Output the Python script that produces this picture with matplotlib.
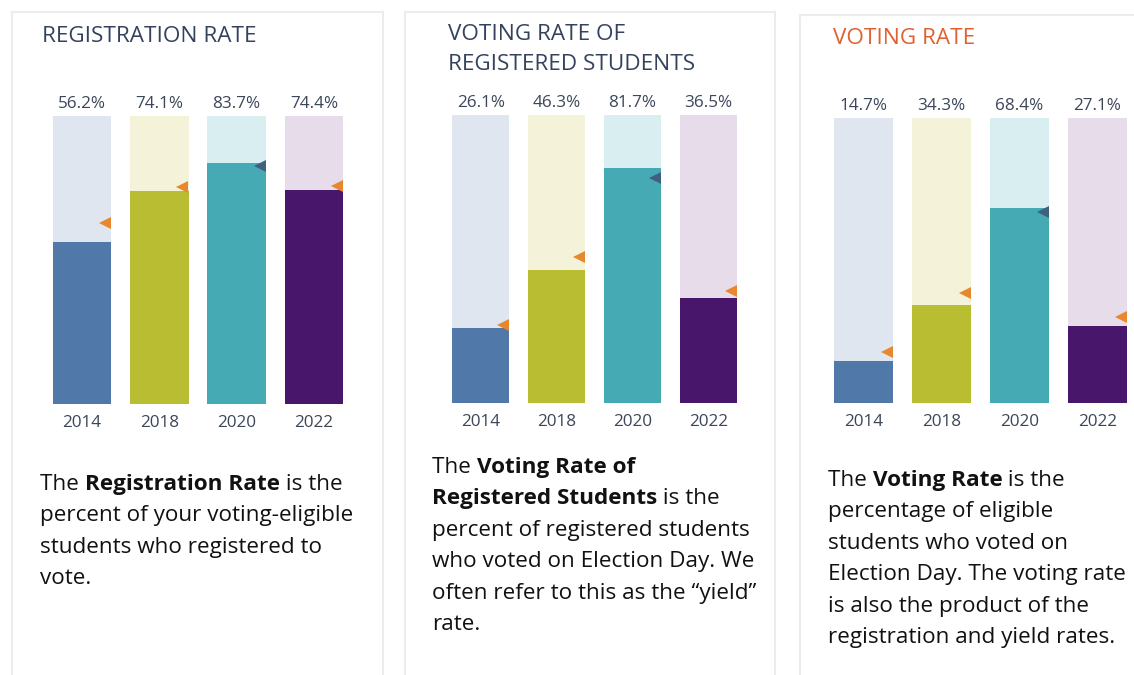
import matplotlib
matplotlib.use("Agg")
import matplotlib.pyplot as plt
from matplotlib.patches import Rectangle

plt.rcParams['font.family'] = ['Open Sans', 'DejaVu Sans']

W, H = 1134, 675

years = ["2014", "2018", "2020", "2022"]

titles = ["REGISTRATION RATE", "VOTING RATE OF\nREGISTERED STUDENTS", "VOTING RATE"]

registration_rate = [56.2, 74.1, 83.7, 74.4]
yield_rate = [26.1, 46.3, 81.7, 36.5]
voting_rate = [14.7, 34.3, 68.4, 27.1]

# orange reference markers
registration_ref = [62.8, 75.3, 82.8, 75.6]
yield_ref = [27.1, 50.7, 78.0, 38.9]
voting_ref = [17.9, 38.6, 67.0, 30.2]

descriptions = [
    [[("The ", False), ("Registration Rate", True), (" is the", False)],
     [("percent of your voting-eligible", False)],
     [("students who registered to", False)],
     [("vote.", False)]],
    [[("The ", False), ("Voting Rate of", True)],
     [("Registered Students", True), (" is the", False)],
     [("percent of registered students", False)],
     [("who voted on Election Day. We", False)],
     [("often refer to this as the \u201cyield\u201d", False)],
     [("rate.", False)]],
    [[("The ", False), ("Voting Rate", True), (" is the", False)],
     [("percentage of eligible", False)],
     [("students who voted on", False)],
     [("Election Day. The voting rate", False)],
     [("is also the product of the", False)],
     [("registration and yield rates.", False)]],
]

bar_colors = ["#5078a9", "#b9bd31", "#46aab5", "#48166a"]
bg_colors = ["#dfe6ef", "#f4f3da", "#d8eef1", "#e7dcea"]
hidden_marker = "#41607f"
marker_color = "#e8872e"
label_color = "#3b4658"
title_colors = ["#34425e", "#34425e", "#e0602e"]

fig = plt.figure(figsize=(W / 100, H / 100), dpi=100)
fig.patch.set_facecolor("white")


def fx(x):
    return x / W


def fy(y):
    return 1 - y / H


# faint card outlines
for (x0, y0, x1, y1) in [(12, 12, 383, 700), (405, 12, 775, 700), (800, 15, 1160, 700)]:
    fig.patches.append(Rectangle((fx(x0), fy(y1)), fx(x1 - x0), (y1 - y0) / H,
                                 transform=fig.transFigure, facecolor="none",
                                 edgecolor="#ececec", lw=1.5, zorder=-1))

panels = [
    dict(vals=registration_rate, refs=registration_ref, left=53, right=343, top=116, bottom=404,
         title_xy=(42, 37), text_xy=(40, 490)),
    dict(vals=yield_rate, refs=yield_ref, left=452, right=737, top=115, bottom=403,
         title_xy=(448, 35), text_xy=(432, 473)),
    dict(vals=voting_rate, refs=voting_ref, left=834, right=1127, top=118, bottom=403,
         title_xy=(833, 38), text_xy=(828, 486)),
]

width = 0.755
renderer = fig.canvas.get_renderer()

for k, p in enumerate(panels):
    ax = fig.add_axes([fx(p["left"]), fy(p["bottom"]),
                       fx(p["right"] - p["left"]), (p["bottom"] - p["top"]) / H])
    ax.set_xlim(-width / 2, 3 + width / 2)
    ax.set_ylim(0, 100)
    ax.axis("off")
    xs = range(len(years))
    ax.bar(xs, [100] * 4, width=width, color=bg_colors, zorder=1)
    ax.bar(xs, p["vals"], width=width, color=bar_colors, zorder=3)
    for i in xs:
        hidden = p["refs"][i] < p["vals"][i]
        ax.plot(i + width / 2 - 0.08, p["refs"][i], marker="<", ms=8.5, mew=0,
                color=hidden_marker if hidden else marker_color,
                zorder=4, clip_on=False)
        ax.annotate(f"{p['vals'][i]:.1f}%", (i, 100), xytext=(0, 3), textcoords="offset points",
                    ha="center", va="bottom", fontsize=12.3, color=label_color)
        ax.annotate(years[i], (i, 0), xytext=(0, -8), textcoords="offset points",
                    ha="center", va="top", fontsize=12.3, color=label_color)

    tx, ty = p["title_xy"]
    for j, tline in enumerate(titles[k].split("\n")):
        fig.text(fx(tx), fy(ty + j * 29), tline, fontsize=16.2, color=title_colors[k],
                 ha="left", va="center")

    x0, y0 = p["text_xy"]
    for j, line in enumerate(descriptions[k]):
        x = x0
        y = y0 + j * 31.4
        for piece, bold in line:
            t = fig.text(fx(x), fy(y), piece, fontsize=16.2, color="#111111",
                         fontweight="bold" if bold else "normal", ha="left", va="baseline")
            x += t.get_window_extent(renderer).width

fig.savefig("out.png", dpi=100)
